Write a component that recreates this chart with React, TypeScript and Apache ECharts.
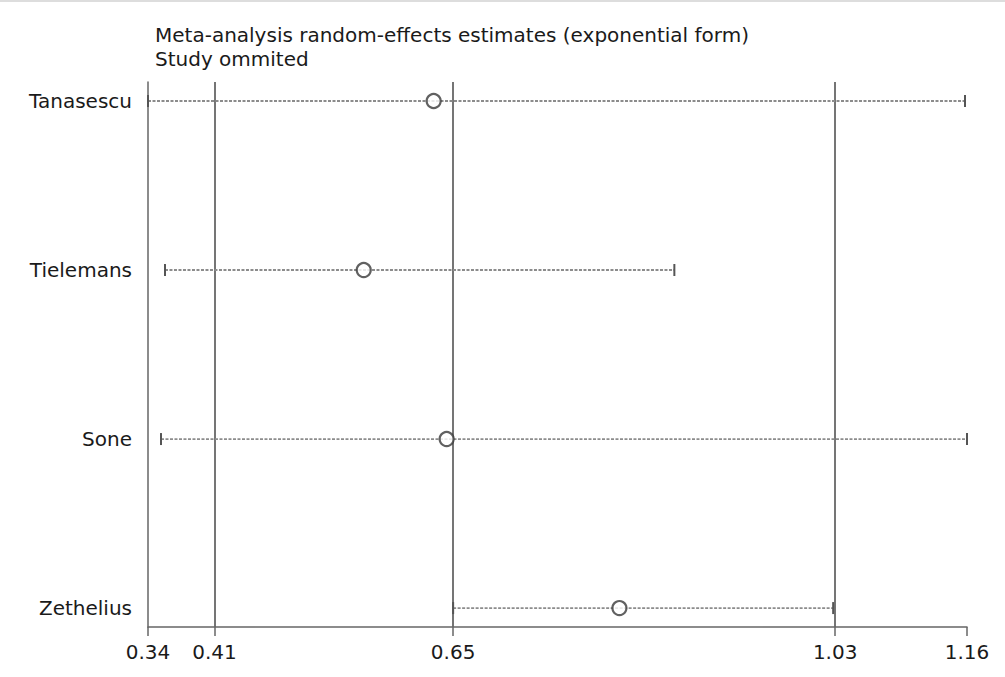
import React, { useEffect, useRef } from "react";
import * as echarts from "echarts";

const studies = ["Tanasescu", "Tielemans", "Sone", "Zethelius"];
const estimates = [0.626, 0.556, 0.639, 0.812];
const lowerCI = [0.34, 0.357, 0.353, 0.6455];
const upperCI = [1.158, 0.867, 1.16, 1.026];
const referenceLines = [0.4065, 0.6455, 1.028];
const xTicks = [0.34, 0.4065, 0.6455, 1.028, 1.16];
const titleLines = [
  "Meta-analysis random-effects estimates (exponential form)",
  "Study ommited",
];

const FONT = "'DejaVu Sans', Verdana, sans-serif";

export default function App() {
  const ref = useRef<HTMLDivElement>(null);
  useEffect(() => {
    if (!ref.current) return;
    const chart = echarts.init(ref.current, undefined, { renderer: "svg" });
    const rows = studies.map((_, i) => i + 1);
    chart.setOption({
      animation: false,
      backgroundColor: "#ffffff",
      textStyle: { fontFamily: FONT },
      graphic: [
        {
          type: "rect",
          shape: { x: 0, y: 0, width: 1005, height: 2 },
          style: { fill: "#dddddd" },
        },
        {
          type: "text",
          x: 155,
          y: 35,
          style: {
            text: titleLines[0],
            font: `20px ${FONT}`,
            fill: "#1a1a1a",
            verticalAlign: "middle",
          },
        },
        {
          type: "text",
          x: 155,
          y: 59,
          style: {
            text: titleLines[1],
            font: `20px ${FONT}`,
            fill: "#1a1a1a",
            verticalAlign: "middle",
          },
        },
      ],
      grid: { left: 148, right: 38, top: 82, bottom: 50 },
      xAxis: {
        type: "value",
        min: 0.34,
        max: 1.16,
        splitLine: { show: false },
        axisLine: { lineStyle: { color: "#666", width: 1.5 } },
        axisTick: {
          customValues: xTicks,
          length: 9,
          lineStyle: { color: "#666", width: 1.5 },
        },
        axisLabel: {
          customValues: xTicks,
          formatter: (v: number) => v.toFixed(2),
          color: "#1a1a1a",
          fontSize: 20,
          margin: 15,
          fontFamily: FONT,
        },
      },
      yAxis: {
        type: "value",
        inverse: true,
        min: 0.8876,
        max: 4.112,
        splitLine: { show: false },
        axisLine: { show: true, lineStyle: { color: "#666", width: 1.5 } },
        axisTick: { show: false },
        axisLabel: {
          customValues: rows,
          formatter: (v: number) => studies[Math.round(v) - 1] ?? "",
          color: "#1a1a1a",
          fontSize: 20,
          margin: 16,
          fontFamily: FONT,
        },
      },
      series: [
        {
          type: "custom",
          silent: true,
          encode: { x: [0, 1], y: 2 },
          data: rows.map((r, i) => [lowerCI[i], upperCI[i], r]),
          renderItem: (params: any, api: any) => {
            const lo = api.coord([api.value(0), api.value(2)]);
            const hi = api.coord([api.value(1), api.value(2)]);
            const capStyle = { stroke: "#555", lineWidth: 2 };
            return {
              type: "group",
              children: [
                {
                  type: "line",
                  shape: { x1: lo[0], y1: lo[1], x2: hi[0], y2: hi[1] },
                  style: { stroke: "#8c8c8c", lineWidth: 1.8, lineDash: [3, 1.5] },
                },
                {
                  type: "line",
                  shape: { x1: lo[0], y1: lo[1] - 6, x2: lo[0], y2: lo[1] + 6 },
                  style: capStyle,
                },
                {
                  type: "line",
                  shape: { x1: hi[0], y1: hi[1] - 6, x2: hi[0], y2: hi[1] + 6 },
                  style: capStyle,
                },
              ],
            };
          },
          z: 2,
        },
        {
          type: "scatter",
          symbol: "circle",
          symbolSize: 14,
          data: rows.map((r, i) => [estimates[i], r]),
          itemStyle: { color: "#ffffff", borderColor: "#3a3a3a", borderWidth: 2.2 },
          markLine: {
            silent: true,
            symbol: "none",
            precision: 4,
            label: { show: false },
            lineStyle: { color: "#666", width: 1.8, type: "solid" },
            data: referenceLines.map((v) => ({ xAxis: v })),
            z: 1,
          },
          z: 3,
        },
      ],
    });
    return () => chart.dispose();
  }, []);
  return (
    <div
      ref={ref}
      style={{ position: "fixed", left: 0, top: 0, width: 1005, height: 677 }}
    />
  );
}
